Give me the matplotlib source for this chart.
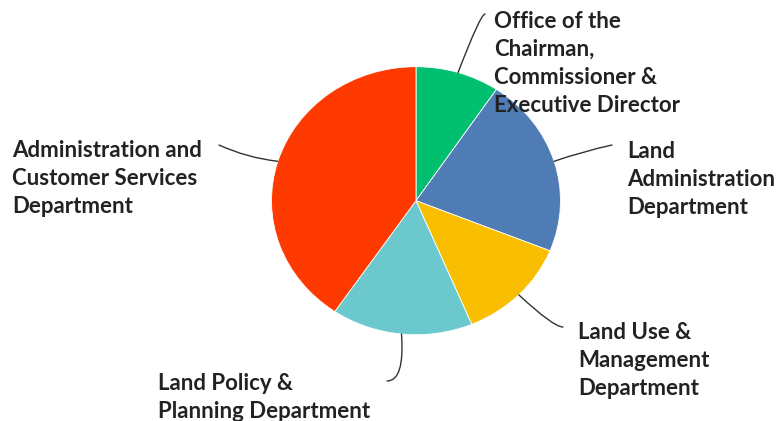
import numpy as np
import matplotlib
matplotlib.use("Agg")
import matplotlib.pyplot as plt

# share of each department (percent), clockwise from 12 o'clock
departments = [
    "Office of the\nChairman,\nCommissioner &\nExecutive Director",
    "Land\nAdministration\nDepartment",
    "Land Use &\nManagement\nDepartment",
    "Land Policy &\nPlanning Department",
    "Administration and\nCustomer Services\nDepartment",
]
shares = [9.4, 21.7, 12.6, 15.8, 40.5]
colors = ["#00BF6F", "#507CB6", "#F9BE00", "#6BC8CD", "#FF3A00"]

# label layout in figure pixels (from top-left): text corner, leader end, curve
label_xy = [(494, 11), (627, 141), (578, 322), (158, 373), (12, 140)]
leader_end = [(485, 14), (612, 145), (563, 327), (387, 381), (219, 145)]
leader_style = ["angle3,angleA=0,angleB=69",
                "arc3,rad=0.03",
                "angle3,angleA=0,angleB=-43",
                "angle3,angleA=0,angleB=-86",
                "arc3,rad=0.08"]

W, H = 781, 421
fig = plt.figure(figsize=(W / 100, H / 100), dpi=100)

cx, cy, rx, ry = 416, 200.7, 144.5, 134
ax = fig.add_axes([(cx - rx) / W, (H - cy - ry) / H, 2 * rx / W, 2 * ry / H])
wedges, _ = ax.pie(shares, colors=colors, startangle=90, counterclock=False,
                   wedgeprops=dict(edgecolor="white", linewidth=0.6))
ax.set_aspect("auto")
ax.set_xlim(-1, 1)
ax.set_ylim(-1, 1)
ax.axis("off")

for w, lab, (tx, ty), (ex, ey), style in zip(wedges, departments, label_xy,
                                             leader_end, leader_style):
    mid = np.deg2rad((w.theta1 + w.theta2) / 2)
    ax.annotate("", xy=(np.cos(mid), np.sin(mid)), xycoords="data",
                xytext=(ex, H - ey), textcoords="figure pixels",
                arrowprops=dict(arrowstyle="-", color="#333333", lw=1.0,
                                shrinkA=0, shrinkB=0, connectionstyle=style))
    fig.text(tx / W, 1 - ty / H, lab, ha="left", va="top", fontsize=16,
             fontfamily="Lato", fontweight="bold", color="#222222",
             linespacing=1.42)

fig.savefig("out.png", dpi=100)
